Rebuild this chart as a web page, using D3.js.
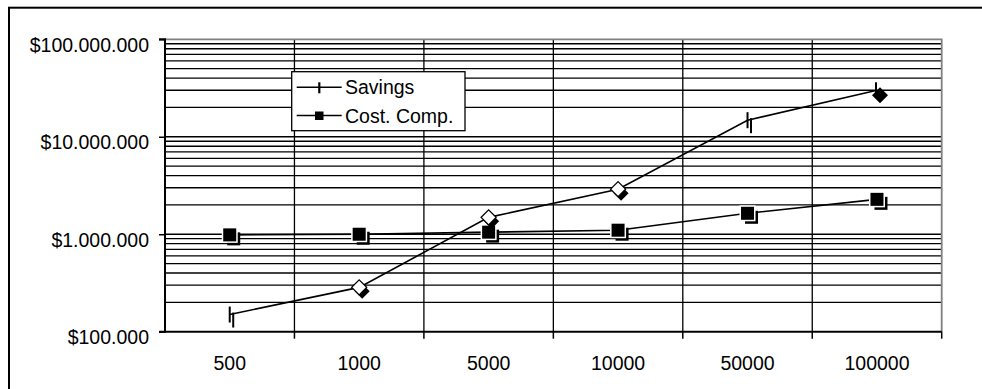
<!DOCTYPE html>
<html><head><meta charset="utf-8">
<script src="https://cdn.jsdelivr.net/npm/d3@7"></script>
<style>
html,body{margin:0;padding:0;background:#fff;}
svg{display:block;font-family:"Liberation Sans",Arial,sans-serif;}
</style></head>
<body><svg id="c" width="982" height="389"></svg>
<script>
const categories = ["500","1000","5000","10000","50000","100000"];
const savings = [150000, 285000, 1490000, 2900000, 14800000, 30000000];
const costComp = [985000, 1000000, 1050000, 1100000, 1640000, 2280000];
const seriesNames = ["Savings","Cost. Comp."];
const yTickValues = [100000, 1000000, 10000000, 100000000];
const savingsMarkerKinds = ["bar","diamond","diamond","diamond","bar","diamondFilled"];

const svg = d3.select("#c");
const L = 165, R = 941.7, T = 39.3, B = 331.7;
const FS = "19.5px";

const x = d3.scaleBand().domain(categories).range([L, R]).padding(0);
const y = d3.scaleLog().domain([100000, 100000000]).range([B, T]);

const loc = d3.formatLocale({decimal: ",", thousands: ".", grouping: [3], currency: ["$", ""]});
const fmt = loc.format("$,.0f");

// outer border
svg.append("rect").attr("x", 9).attr("y", 7.7).attr("width", 1000).attr("height", 400)
  .attr("fill", "none").attr("stroke", "#000").attr("stroke-width", 2);

// minor + major horizontal grid
const gridVals = [];
for (let d = 5; d < 8; d++) for (let k = 1; k <= 9; k++) gridVals.push(k * Math.pow(10, d));
const g = svg.append("g");
g.selectAll("line.h").data(gridVals.filter(v => v > 100000)).join("line")
  .attr("x1", L).attr("x2", R).attr("y1", d => y(d)).attr("y2", d => y(d))
  .attr("stroke", "#000").attr("stroke-width", 1.35);
// vertical grid at category boundaries
const bounds = categories.map(c => x(c)).concat([R]);
g.selectAll("line.v").data(bounds.slice(1, -1)).join("line")
  .attr("x1", d => d).attr("x2", d => d).attr("y1", T).attr("y2", B)
  .attr("stroke", "#000").attr("stroke-width", 1.3);

// plot area gray border top/right
svg.append("path").attr("d", `M${L},${T}H${R}V${B}`).attr("fill", "none")
  .attr("stroke", "#808080").attr("stroke-width", 1.8);

// y axis
const ya = svg.append("g").attr("transform", `translate(${L},0)`)
  .call(d3.axisLeft(y).tickValues(yTickValues).tickFormat(fmt).tickSize(6).tickPadding(10));
ya.select(".domain").attr("stroke", "#000").attr("stroke-width", 2).attr("d", `M-6,${T}H0V${B}H-6`);
ya.selectAll(".tick line").attr("stroke", "#000").attr("stroke-width", 1.5);
ya.selectAll(".tick text").attr("font-size", FS).attr("fill", "#000").attr("dy", "0.62em")
  .attr("font-family", "Liberation Sans, Arial, sans-serif");

// x axis
const xa = svg.append("g").attr("transform", `translate(0,${B})`)
  .call(d3.axisBottom(x).tickSize(0).tickPadding(24));
xa.select(".domain").attr("stroke", "#000").attr("stroke-width", 2).attr("d", `M${L},0H${R}`);
xa.selectAll(".tick text").attr("font-size", FS).attr("fill", "#000")
  .attr("font-family", "Liberation Sans, Arial, sans-serif");
xa.selectAll("line.bt").data(bounds.slice(1)).join("line").attr("class", "bt")
  .attr("x1", d => d).attr("x2", d => d).attr("y1", 0).attr("y2", 7)
  .attr("stroke", "#000").attr("stroke-width", 1.5);

const cx = c => x(c) + x.bandwidth() / 2;

// lines
const line = d3.line().x(d => cx(d[0])).y(d => y(d[1]));
svg.append("path").datum(categories.map((c, i) => [c, costComp[i]])).attr("d", line)
  .attr("fill", "none").attr("stroke", "#000").attr("stroke-width", 1.6);
svg.append("path").datum(categories.map((c, i) => [c, savings[i]])).attr("d", line)
  .attr("fill", "none").attr("stroke", "#000").attr("stroke-width", 1.6);

// cost comp markers: square with shadow
function square(sel, px, py, s, shadow) {
  if (shadow) {
    sel.append("rect").attr("x", px - s/2 + 4).attr("y", py - s/2 + 4).attr("width", s).attr("height", s).attr("fill", "#000");
    sel.append("rect").attr("x", px - s/2 - 1.5).attr("y", py - s/2 - 1.5).attr("width", s + 3).attr("height", s + 3).attr("fill", "#fff");
  }
  sel.append("rect").attr("x", px - s/2).attr("y", py - s/2).attr("width", s).attr("height", s).attr("fill", "#000");
}
const mk = svg.append("g");
categories.forEach((c, i) => square(mk, cx(c), y(costComp[i]), 13, true));

// savings markers
function diamond(px, py, r) { return `M${px},${py-r}L${px+r},${py}L${px},${py+r}L${px-r},${py}Z`; }
categories.forEach((c, i) => {
  const px = cx(c), py = y(savings[i]);
  const k = savingsMarkerKinds[i];
  if (k === "bar") {
    mk.append("line").attr("x1", px + 3.5).attr("x2", px + 3.5).attr("y1", py - 2).attr("y2", py + 13)
      .attr("stroke", "#000").attr("stroke-width", 2);
    mk.append("line").attr("x1", px).attr("x2", px).attr("y1", py - 8).attr("y2", py + 8)
      .attr("stroke", "#000").attr("stroke-width", 2);
  } else if (k === "diamond") {
    mk.append("path").attr("d", diamond(px + 3, py + 4, 7.5)).attr("fill", "#000");
    mk.append("path").attr("d", diamond(px, py, 7.5)).attr("fill", "#fff").attr("stroke", "#000").attr("stroke-width", 1.3);
  } else {
    mk.append("path").attr("d", diamond(px + 3, py + 5, 8)).attr("fill", "#000");
    mk.append("line").attr("x1", px - 1).attr("x2", px - 1).attr("y1", py - 8).attr("y2", py + 6)
      .attr("stroke", "#000").attr("stroke-width", 2);
  }
});

// legend
const lg = svg.append("g");
lg.append("rect").attr("x", 291.7).attr("y", 71.7).attr("width", 173.3).attr("height", 59)
  .attr("fill", "#fff").attr("stroke", "#000").attr("stroke-width", 1.3);
const rows = [87.3, 115.5];
seriesNames.forEach((n, i) => {
  const ry = rows[i];
  lg.append("line").attr("x1", 296.7).attr("x2", 341.7).attr("y1", ry).attr("y2", ry)
    .attr("stroke", "#000").attr("stroke-width", 1.6);
  if (i === 0) {
    lg.append("line").attr("x1", 319.3).attr("x2", 319.3).attr("y1", ry - 5).attr("y2", ry + 6)
      .attr("stroke", "#000").attr("stroke-width", 2.2);
  } else {
    lg.append("rect").attr("x", 315).attr("y", ry - 4).attr("width", 8.5).attr("height", 8.5).attr("fill", "#000");
  }
  lg.append("text").attr("x", 345).attr("y", ry).attr("dy", "0.36em").attr("font-size", FS)
    .attr("fill", "#000").text(n);
});
</script>
</body></html>
